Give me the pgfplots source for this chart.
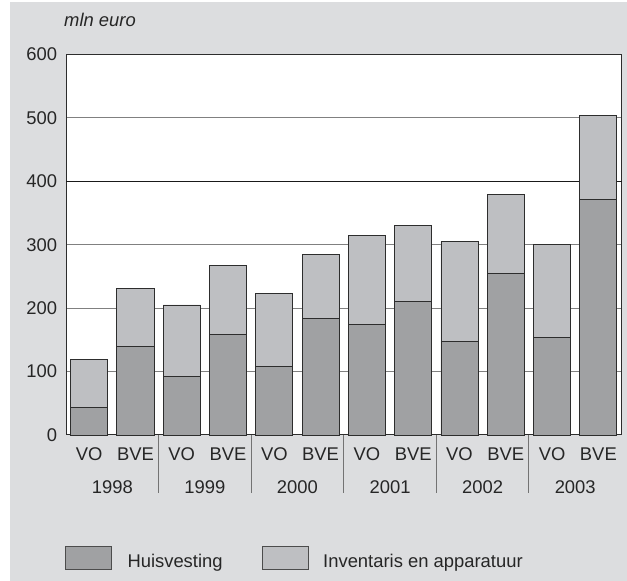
\documentclass[border=0pt]{standalone}
\usepackage{pgfplots}
\pgfplotsset{compat=1.18}
\usepackage{pgfplotstable}
\usepackage{fontspec}
\setmainfont{Liberation Sans}
\definecolor{bg}{RGB}{220,221,223}
\definecolor{darkbar}{RGB}{160,161,163}
\definecolor{lightbar}{RGB}{190,191,194}
\definecolor{edge}{RGB}{45,45,45}
\pgfplotstableread{
x dark light
0 43 76
1 139 92
2 93 112
3 158 109
4 108 115
5 184 101
6 174 141
7 210 121
8 148 157
9 255 125
10 154 146
11 372 132
}\datatable
\newcommand{\lf}{\fontsize{18.4bp}{22bp}\selectfont}
\begin{document}
\begin{tikzpicture}[x=1bp,y=1bp]
\path[use as bounding box] (0,0) rectangle (627,581);
\fill[bg] (10,0) rectangle (627,578.5);
\begin{axis}[
  at={(66bp,146bp)}, anchor=south west,
  scale only axis, width=555.5bp, height=380.5bp,
  ybar stacked, bar width=0.8,
  xmin=-0.5, xmax=11.5, ymin=0, ymax=600,
  xtick={0,...,11},
  xticklabels={VO,BVE,VO,BVE,VO,BVE,VO,BVE,VO,BVE,VO,BVE},
  ytick={0,100,200,300,500,600},
  extra y ticks={400},
  extra y tick style={major grid style={black!90, line width=1bp}},
  ymajorgrids,
  major grid style={black!50, line width=1bp},
  axis line style={edge, line width=1bp},
  tick style={draw=none},
  major tick length=0pt,
  axis background/.style={fill=white},
  clip=false,
  ticklabel style={font=\lf, text=black!85},
  /pgf/number format/assume math mode=true,
  yticklabel style={anchor=east, inner sep=0pt, xshift=-8.7bp},
  xticklabel style={anchor=base, inner sep=0pt, yshift=-25.7bp},
]
\addplot[fill=darkbar, draw=edge, line width=0.9bp] table[x=x,y=dark]{\datatable};
\addplot[fill=lightbar, draw=edge, line width=0.9bp] table[x=x,y=light]{\datatable};
\pgfplotsinvokeforeach{1.5,3.5,5.5,7.5,9.5}{
  \draw[black!55, line width=1bp] (axis cs:#1,0) -- ([yshift=-57.7bp]axis cs:#1,0);
}
\node[anchor=base, inner sep=0pt, font=\lf, text=black!85] at ([yshift=-59bp]axis cs:0.5,0) {1998};
\node[anchor=base, inner sep=0pt, font=\lf, text=black!85] at ([yshift=-59bp]axis cs:2.5,0) {1999};
\node[anchor=base, inner sep=0pt, font=\lf, text=black!85] at ([yshift=-59bp]axis cs:4.5,0) {2000};
\node[anchor=base, inner sep=0pt, font=\lf, text=black!85] at ([yshift=-59bp]axis cs:6.5,0) {2001};
\node[anchor=base, inner sep=0pt, font=\lf, text=black!85] at ([yshift=-59bp]axis cs:8.5,0) {2002};
\node[anchor=base, inner sep=0pt, font=\lf, text=black!85] at ([yshift=-59bp]axis cs:10.5,0) {2003};
\end{axis}
\node[anchor=base west, inner sep=0pt, font=\lf\itshape, text=black!85] at (64,554) {mln euro};
\draw[fill=darkbar, draw=black!70, line width=0.9bp] (65.7,11.3) rectangle (111.7,34.7);
\node[anchor=base west, inner sep=0pt, font=\lf, text=black!85] at (127.3,13.7) {Huisvesting};
\draw[fill=lightbar, draw=black!70, line width=0.9bp] (262.3,11.3) rectangle (308.3,34.7);
\node[anchor=base west, inner sep=0pt, font=\lf, text=black!85] at (323,13.7) {Inventaris en apparatuur};
\end{tikzpicture}
\end{document}
